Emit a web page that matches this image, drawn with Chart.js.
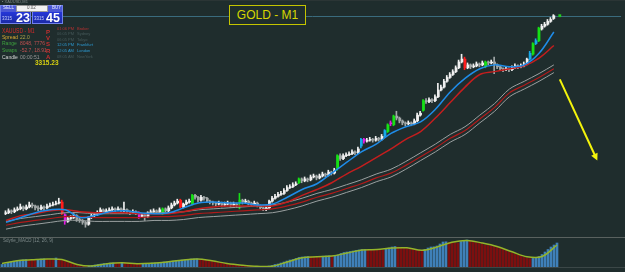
<!DOCTYPE html>
<html><head><meta charset="utf-8">
<script src="https://cdn.jsdelivr.net/npm/chart.js@4"></script>
<style>
html,body{margin:0;padding:0;background:#1f2d2d;width:625px;height:272px;overflow:hidden;font-family:"Liberation Sans",Arial,sans-serif;}
#wrap{position:relative;width:625px;height:272px;}
canvas{position:absolute;left:0;}
#main{top:0;}
#macd{top:238px;}
.t{position:absolute;white-space:nowrap;line-height:1;}
.box{position:absolute;box-sizing:border-box;}
</style></head><body>
<div id="wrap">
<canvas id="main" width="625" height="237"></canvas>
<canvas id="macd" width="625" height="29"></canvas>
<div class="box" style="left:0;top:0;width:625px;height:1px;background:#2b3535"></div>
<div class="box" style="left:0;top:237px;width:625px;height:1px;background:#59615f"></div>
<div class="box" style="left:0;top:267px;width:625px;height:5px;border-top:1px solid #3b4747;background:#1f2d2d"></div>
<div class="t" style="left:2px;top:0px;font-size:4px;color:#7d8888">&#9642; XAUUSD,M1</div>
<!-- trade panel -->
<div class="box" style="left:0;top:5px;width:31px;height:19px;background:linear-gradient(#4b58d6 0,#4b58d6 37%,#2536d6 38%,#1b2aa6 100%);border:1px solid #7080ea"></div>
<div class="box" style="left:32px;top:5px;width:31px;height:19px;background:linear-gradient(#4b58d6 0,#4b58d6 37%,#2536d6 38%,#1b2aa6 100%);border:1px solid #7080ea"></div>
<div class="box" style="left:16px;top:5px;width:32px;height:7px;background:#f2f2f2;border:1px solid #9a9a9a"></div>
<div class="t" style="left:27px;top:6px;font-size:4.5px;color:#555">0.02</div>
<div class="t" style="left:3px;top:6px;font-size:4.5px;color:#e8ecff">SELL</div>
<div class="t" style="left:52px;top:6px;font-size:4.5px;color:#e8ecff">BUY</div>
<div class="t" style="left:2px;top:17px;font-size:4.5px;color:#c8d0ff">3315</div>
<div class="t" style="left:34px;top:17px;font-size:4.5px;color:#c8d0ff">3315</div>
<div class="t" style="left:16px;top:12px;font-size:12.5px;font-weight:bold;color:#ffffff">23</div>
<div class="t" style="left:46px;top:12px;font-size:12.5px;font-weight:bold;color:#ffffff">45</div>
<!-- info block -->
<div class="t" style="left:2px;top:28px;font-size:6.5px;color:#d42a2a;transform:scaleX(0.78);transform-origin:left top">XAUUSD - M1</div>
<div class="t" style="left:2px;top:34.5px;font-size:5px;color:#d8a830">Spread</div>
<div class="t" style="left:20px;top:34.5px;font-size:5px;color:#b0a448">22.0</div>
<div class="t" style="left:2px;top:40.5px;font-size:5px;color:#3ea03e">Range</div>
<div class="t" style="left:20px;top:40.5px;font-size:5px;color:#c05050">8048, 7776</div>
<div class="t" style="left:2px;top:47.5px;font-size:5px;color:#3ea03e">Swaps</div>
<div class="t" style="left:20px;top:47.5px;font-size:5px;color:#c05050">-52.7, 18.91</div>
<div class="t" style="left:2px;top:54.5px;font-size:5px;color:#d6d6d6">Candle</div>
<div class="t" style="left:20px;top:54.5px;font-size:5px;color:#9a9a9a">00:00:51</div>
<div class="t" style="left:35px;top:60px;font-size:6.5px;font-weight:bold;color:#d8d010">3315.23</div>
<div class="t" style="left:46px;top:29px;font-size:6px;font-weight:bold;color:#c83030">P</div>
<div class="t" style="left:46px;top:35px;font-size:6px;font-weight:bold;color:#c83030">V</div>
<div class="t" style="left:46px;top:41px;font-size:6px;font-weight:bold;color:#c83030">S</div>
<div class="t" style="left:46px;top:48px;font-size:6px;font-weight:bold;color:#c83030">R</div>
<div class="t" style="left:46px;top:54px;font-size:6px;font-weight:bold;color:#c83030">A</div>
<div class="t" style="left:57px;top:27px;font-size:4px;color:#b83030">01:06 PM</div><div class="t" style="left:77px;top:27px;font-size:4px;color:#b83030">Broker</div>
<div class="t" style="left:57px;top:32px;font-size:4px;color:#46595a">06:05 PM</div><div class="t" style="left:77px;top:32px;font-size:4px;color:#46595a">Sydney</div>
<div class="t" style="left:57px;top:38px;font-size:4px;color:#46595a">06:05 PM</div><div class="t" style="left:77px;top:38px;font-size:4px;color:#46595a">Tokyo</div>
<div class="t" style="left:57px;top:43px;font-size:4px;color:#2c9ad2">12:05 PM</div><div class="t" style="left:77px;top:43px;font-size:4px;color:#2c9ad2">Frankfurt</div>
<div class="t" style="left:57px;top:49px;font-size:4px;color:#2c9ad2">12:05 AM</div><div class="t" style="left:77px;top:49px;font-size:4px;color:#2c9ad2">London</div>
<div class="t" style="left:57px;top:55px;font-size:4px;color:#46595a">08:05 AM</div><div class="t" style="left:77px;top:55px;font-size:4px;color:#46595a">NewYork</div>
<!-- title -->
<div class="box" style="left:229px;top:5px;width:77px;height:20px;border:1px solid #c4c400;background:#1f2d2d"></div>
<div class="t" style="left:229px;top:9px;width:77px;text-align:center;font-size:12px;color:#d6d600">GOLD - M1</div>
<div class="t" style="left:3px;top:239px;font-size:4.5px;color:#7d8a8a">Sdyrle_MACD (12, 26, 9)</div>
</div>
<script>
// ---- price data (XAUUSD M1) ----
const opens = [
3264.00,3264.25,3264.75,3264.50,3265.00,3265.25,3265.75,3265.25,3265.75,3266.25,
3266.00,3265.50,3265.25,3265.75,3265.50,3266.00,3266.25,3266.50,3266.75,3267.00,
3263.75,3262.00,3262.75,3263.00,3263.50,3262.50,3262.25,3261.75,3261.25,3263.00,
3263.50,3263.75,3264.25,3265.00,3264.50,3264.75,3265.00,3265.25,3265.00,3265.25,
3264.75,3265.00,3264.50,3264.25,3264.50,3264.25,3263.25,3263.75,3263.25,3264.25,
3264.50,3264.75,3264.50,3264.00,3265.25,3264.75,3265.50,3266.25,3266.75,3267.50,
3265.75,3266.50,3267.00,3266.50,3268.75,3268.25,3267.50,3268.25,3268.00,3267.25,
3267.00,3266.75,3266.50,3266.75,3266.25,3266.50,3266.75,3266.25,3266.50,3266.75,
3267.50,3267.00,3267.25,3266.75,3266.50,3266.75,3266.00,3265.50,3265.25,3265.50,
3267.25,3268.00,3268.50,3269.00,3269.25,3270.00,3270.75,3271.00,3271.50,3272.00,
3273.00,3272.50,3273.00,3272.75,3273.50,3273.75,3273.25,3273.75,3274.25,3274.00,
3274.75,3274.50,3275.75,3279.00,3278.25,3279.00,3279.25,3279.50,3280.00,3279.75,
3281.50,3283.25,3282.75,3283.00,3283.25,3283.00,3283.50,3283.25,3284.00,3285.25,
3287.25,3287.00,3289.25,3288.75,3288.00,3287.50,3287.25,3287.50,3287.25,3288.00,
3289.50,3290.75,3293.25,3293.00,3293.50,3293.25,3294.25,3296.00,3296.75,3298.25,
3299.25,3300.00,3300.75,3301.75,3303.25,3304.00,3301.75,3302.50,3302.00,3302.25,
3302.75,3302.50,3302.00,3303.25,3303.00,3303.25,3302.50,3302.00,3301.50,3301.25,
3301.50,3301.25,3301.75,3302.25,3302.00,3302.25,3302.75,3304.00,3305.25,3308.00,
3308.75,3311.75,3312.50,3313.00,3313.75,3314.50];
const closes = [
3264.25,3264.75,3264.50,3265.00,3265.25,3265.75,3265.25,3265.75,3266.25,3266.00,
3265.50,3265.25,3265.75,3265.50,3266.00,3266.25,3266.50,3266.75,3267.00,3264.00,
3262.00,3262.75,3263.00,3263.50,3262.50,3262.25,3261.75,3261.25,3263.00,3263.50,
3263.75,3264.25,3265.00,3264.50,3264.75,3265.00,3265.25,3265.00,3265.25,3264.75,
3265.00,3264.50,3264.25,3264.50,3264.00,3263.25,3263.75,3263.25,3264.25,3264.50,
3264.75,3264.50,3265.00,3265.25,3264.75,3265.50,3266.25,3266.75,3267.25,3265.75,
3266.50,3267.00,3267.25,3268.75,3268.25,3267.50,3268.25,3268.00,3267.25,3267.00,
3266.75,3266.50,3266.75,3266.25,3266.50,3266.75,3266.25,3266.50,3266.25,3267.50,
3267.00,3267.25,3266.75,3266.50,3266.75,3266.00,3265.50,3265.25,3265.50,3267.25,
3268.00,3268.50,3269.00,3269.25,3270.00,3270.75,3271.00,3271.50,3271.75,3273.00,
3272.50,3273.00,3272.75,3273.50,3273.75,3273.25,3273.75,3274.25,3274.00,3274.75,
3274.50,3275.25,3279.00,3278.25,3279.00,3279.25,3279.50,3280.00,3279.75,3280.75,
3283.25,3282.75,3283.00,3283.25,3283.00,3283.50,3283.25,3284.00,3285.50,3287.00,
3287.50,3289.25,3288.75,3288.00,3287.50,3287.25,3287.50,3287.25,3288.00,3289.50,
3290.00,3293.25,3293.00,3293.50,3293.25,3294.25,3296.00,3296.75,3298.25,3299.25,
3300.00,3300.75,3301.75,3303.25,3304.00,3301.75,3302.50,3302.00,3302.25,3302.75,
3302.50,3303.00,3303.25,3303.00,3303.25,3302.50,3302.00,3301.50,3301.25,3301.50,
3301.25,3301.75,3302.25,3302.00,3302.25,3302.75,3304.00,3305.50,3308.00,3308.75,
3312.00,3312.50,3313.00,3313.75,3314.25,3315.23];
const highs = [
3264.75,3265.25,3265.00,3265.50,3265.75,3266.50,3266.00,3266.25,3267.00,3266.75,
3266.25,3266.00,3266.25,3266.00,3266.50,3266.75,3267.00,3267.25,3268.00,3267.50,
3264.00,3263.25,3263.50,3264.00,3263.75,3263.00,3262.50,3262.00,3263.25,3264.00,
3264.25,3264.75,3265.50,3265.25,3265.25,3265.50,3265.75,3265.50,3265.75,3265.50,
3267.00,3265.25,3264.75,3265.00,3264.75,3264.50,3264.00,3264.00,3264.50,3265.00,
3265.25,3265.00,3265.50,3265.50,3265.50,3266.00,3266.75,3267.25,3267.75,3267.75,
3266.75,3267.50,3267.75,3269.00,3269.00,3268.50,3268.75,3268.50,3268.25,3267.50,
3267.25,3267.00,3267.25,3267.00,3267.00,3267.25,3267.00,3267.00,3266.75,3269.25,
3267.75,3267.75,3267.50,3267.00,3267.25,3267.00,3266.25,3265.75,3266.00,3267.50,
3268.50,3269.00,3269.50,3269.75,3270.50,3271.25,3271.50,3272.00,3272.25,3273.25,
3273.25,3273.50,3273.25,3274.00,3274.25,3274.00,3274.25,3274.75,3274.50,3275.25,
3275.00,3275.75,3279.25,3279.50,3279.50,3279.75,3280.00,3280.50,3280.25,3281.25,
3283.50,3283.50,3283.50,3283.75,3283.50,3284.00,3283.75,3284.50,3285.75,3287.25,
3288.00,3289.50,3290.50,3289.00,3288.25,3287.75,3288.00,3287.75,3288.50,3290.00,
3290.50,3293.50,3293.75,3294.00,3293.75,3294.75,3297.75,3297.25,3298.75,3299.75,
3300.50,3301.25,3302.25,3303.75,3305.25,3304.50,3303.00,3302.75,3302.75,3303.25,
3303.00,3303.50,3303.50,3303.50,3303.75,3304.50,3302.75,3302.25,3301.75,3302.00,
3301.75,3302.25,3302.75,3302.50,3302.75,3303.25,3304.25,3306.00,3308.25,3309.25,
3312.25,3313.00,3313.50,3314.25,3314.75,3315.50];
const lows = [
3263.75,3264.00,3264.00,3264.25,3264.75,3265.00,3264.75,3265.00,3265.50,3265.50,
3265.00,3264.75,3265.00,3265.00,3265.25,3265.75,3266.00,3266.25,3266.50,3263.75,
3261.25,3261.75,3262.50,3262.75,3262.00,3261.75,3261.25,3260.50,3261.00,3262.75,
3263.25,3263.50,3264.00,3264.00,3264.25,3264.50,3264.75,3264.50,3264.75,3264.25,
3264.50,3264.00,3263.75,3264.00,3263.75,3262.75,3263.00,3262.25,3263.00,3264.00,
3264.25,3264.00,3264.25,3263.75,3264.50,3264.50,3265.25,3266.00,3266.50,3265.50,
3265.50,3266.25,3266.75,3266.25,3267.75,3267.00,3267.25,3267.50,3267.00,3266.50,
3266.25,3266.00,3266.25,3265.75,3266.00,3266.25,3265.75,3266.00,3265.75,3265.25,
3266.50,3266.75,3266.25,3266.00,3266.25,3265.75,3265.25,3264.75,3264.75,3265.25,
3267.00,3267.75,3268.25,3268.75,3269.00,3269.75,3270.50,3270.75,3271.25,3271.75,
3272.00,3272.25,3272.25,3272.50,3273.25,3272.75,3273.00,3273.50,3273.50,3273.75,
3274.00,3274.25,3275.25,3277.75,3278.00,3278.75,3279.00,3279.25,3279.25,3279.50,
3281.00,3282.25,3282.50,3282.75,3282.50,3282.75,3282.75,3283.00,3283.75,3285.00,
3286.75,3286.75,3288.25,3287.50,3287.00,3286.75,3287.00,3286.75,3287.00,3287.75,
3289.25,3290.50,3292.50,3292.75,3292.75,3293.00,3294.00,3295.75,3296.50,3298.00,
3299.00,3299.75,3300.50,3301.50,3303.00,3301.25,3301.50,3301.50,3301.75,3302.00,
3302.00,3302.25,3301.75,3302.50,3302.75,3300.25,3301.50,3301.00,3300.75,3301.00,
3300.75,3301.00,3301.50,3301.50,3301.75,3302.00,3302.50,3303.75,3305.00,3307.75,
3308.50,3311.50,3312.25,3312.75,3313.50,3314.25];
// indicator-coloured candles (bar indexes)
const greenBars = [53,63,79,99,112,129,131,141,162,178,180];
const redBars = [19,59,155];
const cyanBars = [120,128,177,179];
const magentaBars = [20,45,121,130];
// moving averages sampled at these bars
const maBars = [0,5,10,15,20,25,30,35,40,45,50,55,60,65,70,75,80,85,90,95,100,105,110,115,120,125,130,135,140,145,150,155,160,165,170,175,180,185];
const blueMA = [3261.75,3263.00,3264.25,3265.00,3265.00,3263.00,3263.50,3264.50,3264.75,3264.25,3264.00,3264.25,3265.50,3266.75,3267.00,3266.75,3266.75,3266.25,3266.50,3268.25,3270.25,3271.75,3274.50,3277.25,3280.00,3282.00,3284.75,3286.50,3287.75,3291.00,3295.50,3299.00,3301.50,3302.50,3302.00,3302.50,3305.50,3311.00];
const redMA = [3262.25,3263.50,3264.00,3264.75,3265.00,3264.50,3264.25,3264.25,3264.25,3264.00,3264.00,3264.00,3264.50,3265.25,3265.75,3266.00,3266.00,3266.00,3266.00,3267.00,3268.75,3270.25,3272.00,3274.25,3276.25,3278.50,3280.75,3283.25,3285.25,3288.75,3292.75,3296.75,3300.00,3300.75,3301.50,3302.25,3304.25,3307.50];
const envUpper = [3262.00,3262.75,3263.25,3263.75,3264.25,3264.25,3264.00,3264.00,3264.00,3264.00,3264.25,3264.25,3264.50,3265.00,3265.25,3265.50,3265.75,3266.00,3266.25,3267.00,3268.00,3269.25,3270.25,3271.50,3272.75,3274.25,3275.50,3277.50,3279.75,3282.00,3284.50,3286.50,3289.50,3292.50,3296.25,3298.25,3300.25,3302.50];
const envMid = [3261.00,3261.75,3262.25,3262.75,3263.25,3263.25,3263.00,3263.00,3263.00,3263.00,3263.25,3263.25,3263.50,3264.00,3264.25,3264.50,3264.75,3265.00,3265.25,3266.00,3267.00,3268.25,3269.25,3270.50,3271.75,3273.25,3274.50,3276.50,3278.75,3281.00,3283.50,3285.50,3288.50,3291.50,3295.25,3297.25,3299.25,3301.50];
const envLower = [3260.00,3260.75,3261.25,3261.75,3262.25,3262.25,3262.00,3262.00,3262.00,3262.00,3262.25,3262.25,3262.50,3263.00,3263.25,3263.50,3263.75,3264.00,3264.25,3265.00,3266.00,3267.25,3268.25,3269.50,3270.75,3272.25,3273.50,3275.50,3277.75,3280.00,3282.50,3284.50,3287.50,3290.50,3294.25,3296.25,3298.25,3300.50];
// MACD sub-window
const macdHist = [
0.25,0.30,0.40,0.50,0.58,0.62,0.68,0.72,0.74,0.70,
0.68,0.65,0.75,0.80,0.82,0.78,0.76,0.72,0.90,0.80,
0.65,0.55,0.45,0.35,0.25,0.15,0.10,0.05,0.04,0.10,
0.15,0.20,0.25,0.30,0.35,0.37,0.40,0.41,0.40,0.39,
0.45,0.42,0.40,0.36,0.34,0.30,0.29,0.31,0.35,0.36,
0.40,0.41,0.42,0.46,0.50,0.52,0.55,0.60,0.65,0.66,
0.70,0.71,0.72,0.80,0.81,0.82,0.76,0.72,0.70,0.65,
0.55,0.50,0.45,0.40,0.35,0.30,0.25,0.20,0.19,0.15,
0.14,0.10,0.09,0.08,0.05,0.04,0.03,0.02,0.05,0.10,
0.15,0.25,0.30,0.40,0.50,0.60,0.70,0.75,0.85,0.95,
1.00,1.02,1.05,1.04,1.00,0.99,0.98,1.08,1.10,1.12,
1.10,1.13,1.20,1.35,1.45,1.50,1.55,1.60,1.65,1.70,
1.75,1.76,1.74,1.70,1.70,1.69,1.68,1.67,1.80,1.90,
2.00,2.05,2.00,1.95,1.90,1.85,1.80,1.75,1.70,1.65,
1.60,1.75,1.90,2.00,2.02,2.10,2.30,2.50,2.52,2.45,
2.44,2.43,2.40,2.55,2.65,2.70,2.65,2.55,2.45,2.40,
2.30,2.20,2.15,2.10,2.05,1.95,1.85,1.75,1.65,1.50,
1.40,1.30,1.20,1.10,1.00,0.90,0.85,0.86,0.90,1.05,
1.25,1.50,1.75,2.00,2.20,2.40];
const macdSignal = [0.35,0.62,0.72,0.80,0.75,0.25,0.10,0.32,0.42,0.33,0.38,0.50,0.68,0.80,0.62,0.35,0.18,0.07,0.08,0.50,0.92,1.02,1.10,1.40,1.70,1.74,1.90,1.92,1.68,2.00,2.48,2.66,2.40,2.05,1.52,1.02,1.05,2.20];
// current bid and drawn arrow (bar index, price)
const bidPrice = 3315.23;
const bidBar = 187;
const arrowFrom = [187, 3298.75];
const arrowTo = [199.67, 3277.75];

// ---- styling / build ----
function candleColor(i){
  if (greenBars.includes(i)) return '#16e016';
  if (redBars.includes(i)) return '#ff1c1c';
  if (cyanBars.includes(i)) return '#18a8e8';
  if (magentaBars.includes(i)) return '#e41ee4';
  return closes[i] >= opens[i] ? '#f0f0f0' : '#a2a8a8';
}
const bodyData = opens.map((o,i)=>({x:i, y:[o, closes[i]]}));
const wickData = lows.map((l,i)=>({x:i, y:[l, highs[i]]}));
const maLine = arr => arr.map((v,k)=>({x:maBars[k], y:v}));
const XMIN = -2/3, XMAX = 625/3 - 2/3;

const overlay = {
  id:'overlay',
  beforeDatasetsDraw(chart){
    const {ctx, chartArea, scales:{y}} = chart;
    const py = Math.round(y.getPixelForValue(bidPrice)) + 0.5;
    ctx.save();
    ctx.strokeStyle = '#3a6b7d'; ctx.lineWidth = 1;
    ctx.beginPath(); ctx.moveTo(chartArea.left, py); ctx.lineTo(chartArea.right, py); ctx.stroke();
    ctx.restore();
  },
  afterDatasetsDraw(chart){
    const {ctx, scales:{x,y}} = chart;
    const x1 = x.getPixelForValue(arrowFrom[0]), y1 = y.getPixelForValue(arrowFrom[1]);
    const x2 = x.getPixelForValue(arrowTo[0]), y2 = y.getPixelForValue(arrowTo[1]);
    const ang = Math.atan2(y2-y1, x2-x1);
    ctx.save();
    ctx.strokeStyle = '#f4f40c'; ctx.fillStyle = '#f4f40c'; ctx.lineWidth = 2;
    ctx.beginPath(); ctx.moveTo(x1,y1);
    ctx.lineTo(x2 - 5*Math.cos(ang), y2 - 5*Math.sin(ang)); ctx.stroke();
    ctx.beginPath();
    ctx.moveTo(x2, y2);
    ctx.lineTo(x2 - 7*Math.cos(ang) + 3.5*Math.sin(ang), y2 - 7*Math.sin(ang) - 3.5*Math.cos(ang));
    ctx.lineTo(x2 - 7*Math.cos(ang) - 3.5*Math.sin(ang), y2 - 7*Math.sin(ang) + 3.5*Math.cos(ang));
    ctx.closePath(); ctx.fill();
    ctx.restore();
  }
};

const lineDs = (data, color, w, order) => ({type:'line', data, borderColor:color, borderWidth:w, pointRadius:0, tension:0.35, order, xAxisID:'x'});

new Chart(document.getElementById('main'), {
  type:'bar',
  data:{datasets:[
    {data:wickData, backgroundColor:c=>candleColor(c.dataIndex), barThickness:1, grouped:false, order:11, xAxisID:'xw'},
    {data:bodyData, backgroundColor:c=>candleColor(c.dataIndex), barThickness:2, grouped:false, order:10, xAxisID:'x'},
    lineDs(maLine(envUpper), '#9aa0a0', 1, 5),
    lineDs(maLine(envLower), '#9aa0a0', 1, 5),
    lineDs(maLine(envMid), '#b01a1a', 1.2, 4),
    lineDs(maLine(redMA), '#c41e1e', 1.5, 3),
    lineDs(maLine(blueMA), '#1f8ce8', 1.5, 2),
    {type:'line', data:[{x:bidBar, y:bidPrice}], showLine:false, pointStyle:'rect', pointRadius:2, backgroundColor:'#22cc22', borderWidth:0, order:1, xAxisID:'x'}
  ]},
  options:{
    responsive:false, animation:false, devicePixelRatio:1,
    layout:{padding:0},
    plugins:{legend:{display:false}, tooltip:{enabled:false}},
    scales:{
      x:{type:'linear', min:XMIN, max:XMAX, display:false, offset:false},
      xw:{type:'linear', min:XMIN+1/6, max:XMAX+1/6, display:false, offset:false},
      y:{min:3259, max:3318.25, display:false}
    }
  },
  plugins:[overlay]
});

const histColors = macdHist.map((v,i)=> (i===0 || v > macdHist[i-1]) ? '#3f80b8' : '#7c0f0f');
new Chart(document.getElementById('macd'), {
  type:'bar',
  data:{datasets:[
    {data:macdHist.map((v,i)=>({x:i,y:v})), backgroundColor:histColors, barThickness:2, grouped:false, order:2},
    {type:'line', data:maLine(macdSignal), borderColor:'#94b42a', borderWidth:1.5, pointRadius:0, tension:0.35, order:1}
  ]},
  options:{
    responsive:false, animation:false, devicePixelRatio:1,
    layout:{padding:0},
    plugins:{legend:{display:false}, tooltip:{enabled:false}},
    scales:{
      x:{type:'linear', min:XMIN, max:XMAX, display:false, offset:false},
      y:{min:0, max:2.9, display:false}
    }
  }
});
</script>
</body></html>
